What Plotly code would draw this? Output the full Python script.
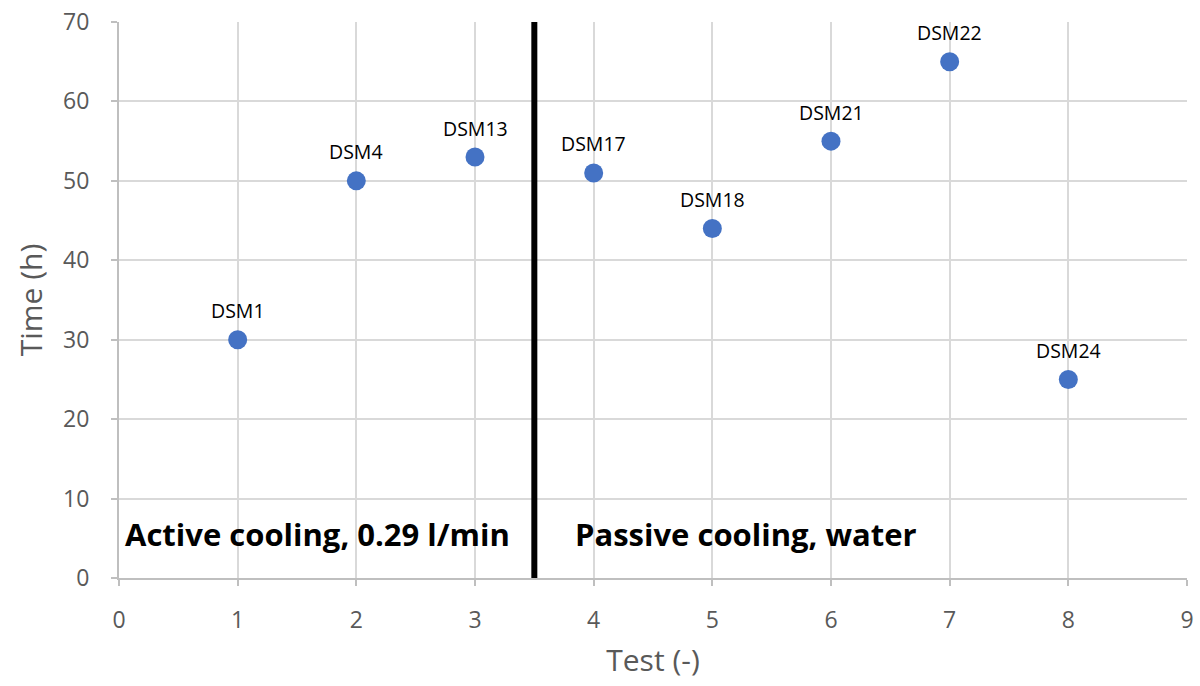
import plotly.graph_objects as go

# Test number, duration and sample name for each run
tests = [1, 2, 3, 4, 5, 6, 7, 8]
hours = [30, 50, 53, 51, 44, 55, 65, 25]
samples = ["DSM1", "DSM4", "DSM13", "DSM17", "DSM18", "DSM21", "DSM22", "DSM24"]

# Boundary between the two cooling regimes
split_x = 3.5
regime_labels = ["Active cooling, 0.29 l/min", "Passive cooling, water"]
regime_x = [0.03, 3.83]
regime_y = 5.5

x_ticks = list(range(0, 10))
y_ticks = list(range(0, 80, 10))

FONT = "Open Sans, sans-serif"

fig = go.Figure()
fig.add_trace(go.Scatter(
    x=tests, y=hours, mode="markers",
    marker=dict(size=19, color="#4472C4"),
    showlegend=False, hoverinfo="x+y",
))

for x, y, name in zip(tests, hours, samples):
    fig.add_annotation(x=x, y=y, text=name, showarrow=False, yshift=29,
                       font=dict(family=FONT, size=19.5, color="#000000"))

fig.add_shape(type="line", x0=split_x, x1=split_x, y0=0, y1=70, xref="x", yref="y",
              line=dict(color="#000000", width=6))

for lx, txt in zip(regime_x, regime_labels):
    fig.add_annotation(x=lx, y=regime_y, text="<b>" + txt + "</b>", showarrow=False,
                       xanchor="left", yanchor="middle",
                       font=dict(family=FONT, size=31, color="#000000"))

axis_font = dict(family=FONT, size=23, color="#595959")
title_font = dict(family=FONT, size=30, color="#595959")
fig.update_xaxes(
    range=[0, 9], tickvals=x_ticks, showgrid=True, gridcolor="#D9D9D9", gridwidth=2,
    zeroline=False, showline=True, linecolor="#BFBFBF", linewidth=2,
    ticks="outside", ticklen=6, tickcolor="#BFBFBF", tickwidth=2,
    tickfont=axis_font, ticklabelstandoff=14, automargin=False,
    title=dict(text="Test (-)", font=title_font, standoff=16),
)
fig.update_yaxes(
    range=[0, 70], tickvals=y_ticks, showgrid=True, gridcolor="#D9D9D9", gridwidth=2,
    zeroline=False, showline=True, linecolor="#BFBFBF", linewidth=2,
    ticks="outside", ticklen=6, tickcolor="#BFBFBF", tickwidth=2,
    tickfont=axis_font, ticklabelstandoff=17, automargin=False,
    title=dict(text="Time (h)", font=title_font, standoff=12),
)

fig.update_layout(
    width=1200, height=686,
    margin=dict(l=119, r=13, t=22, b=108),
    plot_bgcolor="#FFFFFF", paper_bgcolor="#FFFFFF",
)

fig.write_html("out.html")
